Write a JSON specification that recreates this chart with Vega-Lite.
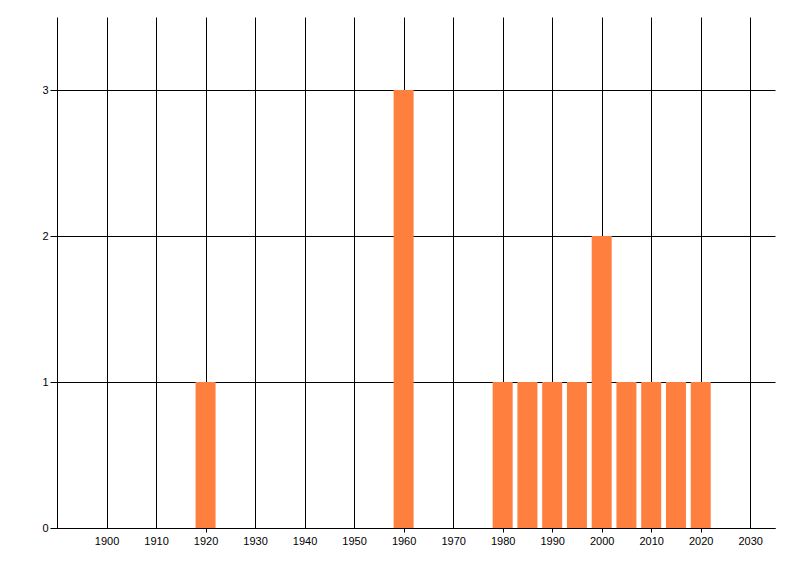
{
  "$schema": "https://vega.github.io/schema/vega-lite/v6.json",
  "width": 718,
  "height": 511,
  "autosize": {"type": "none"},
  "padding": {"left": 57, "top": 17, "right": 25, "bottom": 48},
  "background": "white",
  "config": {
    "view": {"stroke": null},
    "axis": {
      "labelFont": "Liberation Sans",
      "labelFontSize": 11,
      "labelColor": "black",
      "domainColor": "black",
      "domainWidth": 1,
      "gridColor": "black",
      "gridWidth": 1,
      "gridOpacity": 1,
      "tickColor": "black",
      "title": null
    }
  },
  "data": {
    "values": [
      {"year": 1920, "count": 1},
      {"year": 1960, "count": 3},
      {"year": 1980, "count": 1},
      {"year": 1985, "count": 1},
      {"year": 1990, "count": 1},
      {"year": 1995, "count": 1},
      {"year": 2000, "count": 2},
      {"year": 2005, "count": 1},
      {"year": 2010, "count": 1},
      {"year": 2015, "count": 1},
      {"year": 2020, "count": 1}
    ]
  },
  "mark": {"type": "bar", "color": "#FF7F3F", "size": 20, "opacity": 1},
  "encoding": {
    "x": {
      "field": "year",
      "type": "quantitative",
      "scale": {"domain": [1890, 2035], "nice": false, "zero": false, "padding": 0},
      "axis": {
        "values": [1900, 1910, 1920, 1930, 1940, 1950, 1960, 1970, 1980, 1990, 2000, 2010, 2020, 2030],
        "format": "d",
        "ticks": true,
        "tickSize": 4,
        "tickOpacity": {
          "condition": {"test": "indexof([1920, 1960, 1980, 1990, 2000, 2010, 2020], datum.value) >= 0", "value": 1},
          "value": 0
        },
        "labelPadding": 3,
        "grid": true,
        "zindex": 0
      }
    },
    "y": {
      "field": "count",
      "type": "quantitative",
      "scale": {"domain": [0, 3.5], "nice": false},
      "axis": {
        "values": [0, 1, 2, 3],
        "format": "d",
        "tickSize": 7,
        "labelPadding": 2,
        "grid": true,
        "zindex": 0
      }
    }
  }
}
